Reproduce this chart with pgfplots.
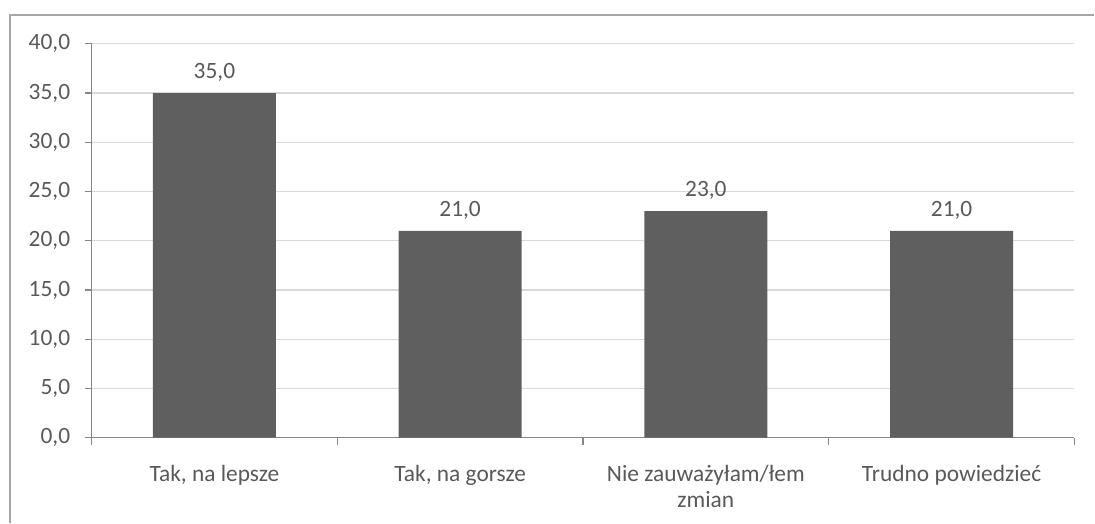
\documentclass[border=0pt]{standalone}
\usepackage{pgfplots}
\pgfplotsset{compat=1.18}
\usepackage{fontspec}
\setmainfont{Carlito}
\definecolor{barc}{HTML}{5F5F5F}
\definecolor{txt}{HTML}{595959}
\definecolor{axc}{HTML}{868686}
\definecolor{gridc}{HTML}{D9D9D9}
\definecolor{framec}{HTML}{A6A6A6}
\newcommand{\lbl}{\fontsize{23.5}{26}\selectfont}
\begin{document}
\begin{tikzpicture}[x=1pt,y=1pt]
\path (0,0) rectangle (1095,521);
\draw[framec, line width=1.3pt] (10,-5) -- (10,506) -- (1100,506);
\begin{axis}[
  at={(92pt,81pt)}, anchor=south west,
  scale only axis, width=988pt, height=396pt,
  xmin=-0.5, xmax=3.5, ymin=0, ymax=40,
  ytick distance=5,
  axis x line*=bottom, axis y line*=left,
  axis line style={axc, line width=1.3pt, -},
  tick align=outside, major tick length=7pt,
  tick style={axc, line width=1.3pt},
  xtick={-0.5,0.5,1.5,2.5,3.5}, xticklabels={},
  extra x ticks={0,1,2,3},
  extra x tick labels={{Tak, na lepsze}, {Tak, na gorsze}, {Nie zauważyłam/łem\\zmian}, {Trudno powiedzieć}},
  extra x tick style={major tick length=0pt, grid=none},
  xticklabel style={font=\lbl, text=txt, align=center, anchor=north, yshift=-24pt},
  ymajorgrids, grid style={gridc, line width=1.3pt},
  yticklabel style={font=\lbl, text=txt, xshift=-11pt, /pgf/number format/.cd, fixed, fixed zerofill, precision=1, use comma, assume math mode=true},
  nodes near coords={\pgfmathprintnumber[fixed,fixed zerofill,precision=1,use comma,assume math mode=true]{\pgfplotspointmeta}},
  every node near coord/.append style={font=\lbl, text=txt, yshift=8pt},
  clip=false,
]
\addplot[ybar, fill=barc, draw=none, bar width=123.5pt] coordinates {(0,35) (1,21) (2,23) (3,21)};
\end{axis}
\end{tikzpicture}
\end{document}
